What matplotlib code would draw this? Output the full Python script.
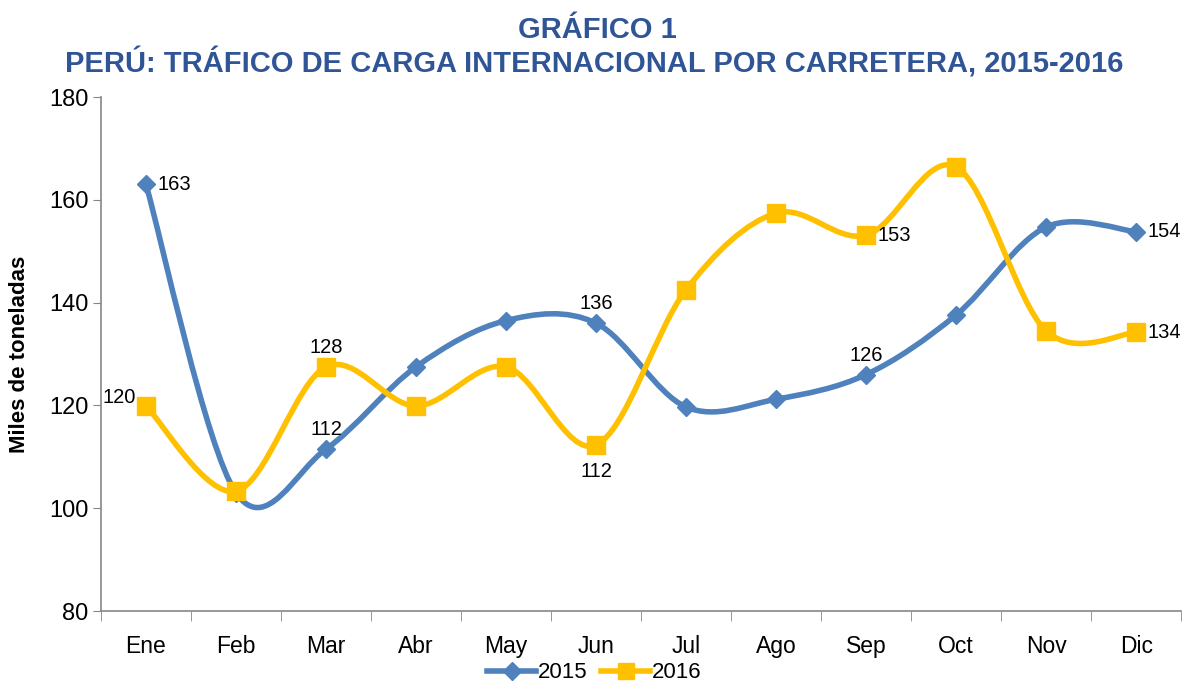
import matplotlib.pyplot as plt
import numpy as np
from matplotlib.path import Path
from matplotlib.patches import PathPatch
from matplotlib.lines import Line2D

plt.rcParams['font.family'] = ['Liberation Sans', 'DejaVu Sans']

meses = ['Ene', 'Feb', 'Mar', 'Abr', 'May', 'Jun', 'Jul', 'Ago', 'Sep', 'Oct', 'Nov', 'Dic']
valores_2015 = [163, 103, 111.5, 127.5, 136.5, 136, 119.7, 121.2, 126, 137.6, 154.7, 153.8]
valores_2016 = [119.9, 103.3, 127.5, 119.9, 127.5, 112.3, 142.5, 157.4, 153.1, 166.4, 134.5, 134.2]

# etiquetas visibles: (indice, texto, posicion)
etiquetas_2015 = [(0, '163', 'right'), (2, '112', 'above'), (5, '136', 'above'),
                  (8, '126', 'above'), (11, '154', 'right')]
etiquetas_2016 = [(0, '120', 'left'), (2, '128', 'above'), (5, '112', 'below'),
                  (8, '153', 'right'), (11, '134', 'right')]

azul = '#4F81BD'
amarillo = '#FFC000'
titulo_color = '#2F5597'


def curva_suave(x, y):
    # spline tipo Catmull-Rom como el suavizado de Excel
    pts = np.column_stack([x, y]).astype(float)
    n = len(pts)
    verts = [pts[0]]
    codes = [Path.MOVETO]
    for i in range(n - 1):
        p0 = pts[max(i - 1, 0)]
        p1 = pts[i]
        p2 = pts[i + 1]
        p3 = pts[min(i + 2, n - 1)]
        c1 = p1 + (p2 - p0) / 6
        c2 = p2 - (p3 - p1) / 6
        verts += [c1, c2, p2]
        codes += [Path.CURVE4] * 3
    return Path(verts, codes)


fig = plt.figure(figsize=(11.89, 6.86), dpi=100)
ax = fig.add_axes([0.0849, 0.1093, 0.9085, 0.7493])

x = np.arange(len(meses))
for vals, color, marker, ms in [(valores_2015, azul, 'D', 9), (valores_2016, amarillo, 's', 13)]:
    ax.add_patch(PathPatch(curva_suave(x, vals), facecolor='none', edgecolor=color,
                           lw=4, capstyle='round', joinstyle='round', zorder=2))
    ax.plot(x, vals, linestyle='none', marker=marker, markersize=ms, color=color, zorder=3)

offsets = {'right': (8, 0, 'left', 'center'), 'left': (-7, 6, 'right', 'center'),
           'above': (0, 14, 'center', 'center'), 'below': (0, -19, 'center', 'center')}
for vals, etqs in [(valores_2015, etiquetas_2015), (valores_2016, etiquetas_2016)]:
    for i, txt, pos in etqs:
        dx, dy, ha, va = offsets[pos]
        ax.annotate(txt, (x[i], vals[i]), xytext=(dx, dy), textcoords='offset points',
                    ha=ha, va=va, fontsize=14.5, color='black', zorder=4)

ax.set_xlim(-0.5, 11.5)
ax.set_ylim(80, 180)
ax.set_yticks(np.arange(80, 181, 20))
ax.set_xticks(x)
ax.set_xticklabels(meses)
ax.set_xticks(np.arange(-0.5, 12, 1), minor=True)
ax.tick_params(axis='x', which='major', length=0, pad=17, labelsize=16.5)
ax.tick_params(axis='x', which='minor', length=7, color='#868686')
ax.tick_params(axis='y', length=6, color='#868686', labelsize=17, pad=3)

for s in ['top', 'right']:
    ax.spines[s].set_visible(False)
for s in ['left', 'bottom']:
    ax.spines[s].set_color('#868686')
    ax.spines[s].set_linewidth(1.2)

ax.set_ylabel('Miles de toneladas', fontsize=16, fontweight='bold', labelpad=14)

fig.text(0.502, 1 - 30 / 686, 'GRÁFICO 1', ha='center', va='center', fontsize=21,
         fontweight='bold', color=titulo_color)
fig.text(0.5, 1 - 63 / 686, 'PERÚ: TRÁFICO DE CARGA INTERNACIONAL POR CARRETERA, 2015-2016',
         ha='center', va='center', fontsize=21, fontweight='bold', color=titulo_color)

handles = [Line2D([], [], color=azul, lw=4, marker='D', markersize=9),
           Line2D([], [], color=amarillo, lw=4, marker='s', markersize=12)]
fig.legend(handles, ['2015', '2016'], loc='center', bbox_to_anchor=(0.5, 1 - 673 / 686),
           ncol=2, frameon=False, fontsize=16, handlelength=2.2, columnspacing=0.6,
           handletextpad=0.1, borderpad=0.1)

fig.savefig('out.png', dpi=100)
